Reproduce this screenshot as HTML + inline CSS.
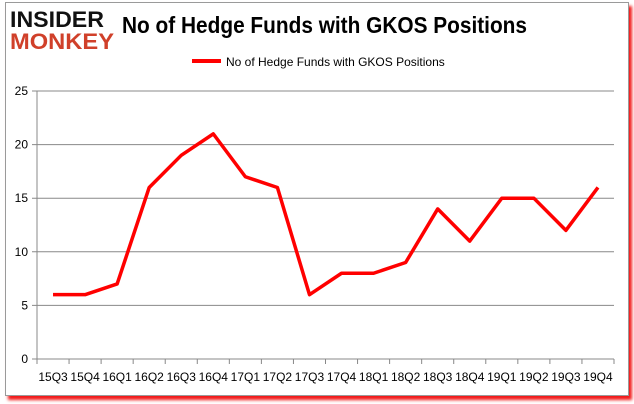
<!DOCTYPE html>
<html><head><meta charset="utf-8"><style>
body{margin:0;background:#fff;width:634px;height:404px;overflow:hidden;font-family:"Liberation Sans",sans-serif}
#frame{position:absolute;left:5px;top:2px;width:622px;height:392px;border:1px solid #9a9a9a;background:#fff;box-shadow:3px 4px 3px #f21a1a}
</style></head><body>
<div id="frame"></div>
<svg id="c" width="634" height="404" style="position:absolute;left:0;top:0">
<g>
<text x="10" y="27" font-family="Liberation Sans" font-weight="bold" font-size="22" fill="#111" textLength="94" lengthAdjust="spacingAndGlyphs">INSIDER</text>
<text x="10" y="49" font-family="Liberation Sans" font-weight="bold" font-size="22" fill="#d0402a" textLength="104" lengthAdjust="spacingAndGlyphs">MONKEY</text>
</g>
<text x="122" y="33" font-family="Liberation Sans" font-weight="bold" font-size="23" fill="#000" textLength="405" lengthAdjust="spacingAndGlyphs">No of Hedge Funds with GKOS Positions</text>
<g>
<line x1="192" y1="61" x2="221" y2="61" stroke="#f00" stroke-width="4"/>
<text x="226" y="66" font-size="12" fill="#000">No of Hedge Funds with GKOS Positions</text>
</g>
<g id="plot"></g>
</svg>
<script>
const categories=["15Q3","15Q4","16Q1","16Q2","16Q3","16Q4","17Q1","17Q2","17Q3","17Q4","18Q1","18Q2","18Q3","18Q4","19Q1","19Q2","19Q3","19Q4"];
const values=[6,6,7,16,19,21,17,16,6,8,8,9,14,11,15,15,12,16];
const yTicks=[0,5,10,15,20,25];
const X0=37,X1=614,Y0=359,Y1=91,YMAX=25;
const ns="http://www.w3.org/2000/svg";
const g=document.getElementById('plot');
const bw=(X1-X0)/categories.length;
const xs=i=>X0+bw*(i+0.5);
const ys=v=>Y0-(v/YMAX)*(Y0-Y1);
function mk(t,a){const e=document.createElementNS(ns,t);for(const k in a)e.setAttribute(k,a[k]);g.appendChild(e);return e;}
yTicks.forEach(v=>{
 const l=mk('line',{x1:X0-5,x2:X1,y1:ys(v),y2:ys(v),stroke:'#888'});
 
 
 const t=mk('text',{x:X0-9,y:ys(v)+4,'text-anchor':'end','font-size':'12',fill:'#000'});
 t.textContent=v;
 
 
});
const ax=mk('line',{x1:X0,x2:X0,y1:Y1,y2:Y0,stroke:'#888'});


const xa=mk('line',{x1:X0,x2:X1,y1:Y0,y2:Y0,stroke:'#888'});


for(let i=0;i<=categories.length;i++){
 const tk=mk('line',{x1:X0+bw*i,x2:X0+bw*i,y1:Y0,y2:Y0+5,stroke:'#888'});
 
 
}
categories.forEach((c,i)=>{
 const t=mk('text',{x:xs(i),y:Y0+22,'text-anchor':'middle','font-size':'12',fill:'#000'});
 t.textContent=c;
 
 
});
const p=mk('polyline',{points:values.map((v,i)=>xs(i)+','+ys(v)).join(' '),fill:'none',stroke:'#f00','stroke-width':'3.5','stroke-linejoin':'round'});


</script>
</body></html>
